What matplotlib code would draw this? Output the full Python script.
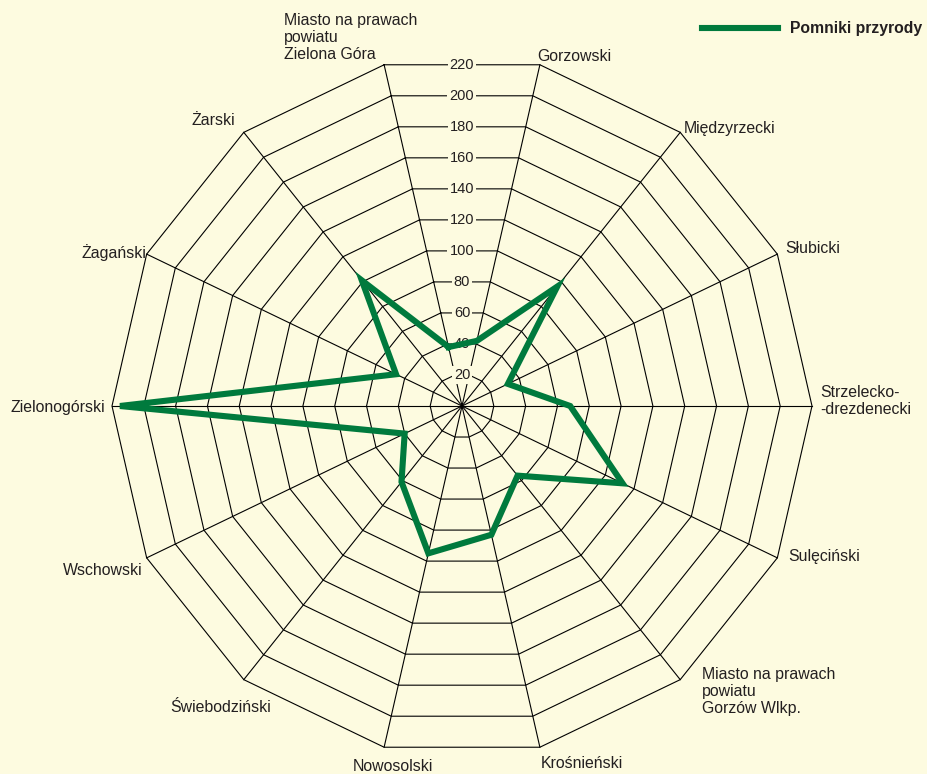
import numpy as np
import matplotlib
matplotlib.use('Agg')
import matplotlib.pyplot as plt

plt.rcParams['font.family'] = ['Liberation Sans', 'DejaVu Sans']

# ---- data ----
categories = [
    "Miasto na prawach\npowiatu\nZielona Góra",
    "Gorzowski",
    "Międzyrzecki",
    "Słubicki",
    "Strzelecko-\n-drezdenecki",
    "Sulęciński",
    "Miasto na prawach\npowiatu\nGorzów Wlkp.",
    "Krośnieński",
    "Nowosolski",
    "Świebodziński",
    "Wschowski",
    "Zielonogórski",
    "Żagański",
    "Żarski",
]
values = [38, 42, 96, 32, 68, 112, 56, 83, 95, 61, 40, 215, 46, 101]
series_name = "Pomniki przyrody"
tick_values = [20, 40, 60, 80, 100, 120, 140, 160, 180, 200, 220]
tick_labels = ["20", "40", "60", "80", "100", "120", "140", "160", "180", "200", "220"]

# ---- label placement (pixel offsets from the outer vertex, alignment) ----
label_offsets_px = [(-100, 27), (-3, 8), (4, 4), (8, 6), (8, 5), (11, 1), (22, -12),
                    (1, -16), (9, -19), (-23, -28), (-4, -13), (-7, -1), (0, 2), (-9, 12)]
label_ha = ['left', 'left', 'left', 'left', 'left', 'left', 'left',
            'left', 'center', 'center', 'right', 'right', 'right', 'right']

BG = '#FDFBE0'
GREEN = '#007A3D'
TXT = '#231F20'

W, H, DPI = 927, 774, 100
fig = plt.figure(figsize=(W / DPI, H / DPI), dpi=DPI, facecolor=BG)
ax = fig.add_axes([0, 0, 1, 1])
ax.set_facecolor(BG)
k = 220 / 350.0  # data units per pixel
cx, cy = 462, 406
ax.set_xlim(-cx * k, (W - cx) * k)
ax.set_ylim(-(H - cy) * k, cy * k)
ax.set_aspect('equal')
ax.axis('off')

n = len(categories)
theta = np.deg2rad(90 + 180 / n - np.arange(n) * 360 / n)
ct, st = np.cos(theta), np.sin(theta)
rmax = tick_values[-1]

# grid polygons
for v in tick_values:
    xs = np.append(v * ct, v * ct[0])
    ys = np.append(v * st, v * st[0])
    ax.plot(xs, ys, color='black', lw=0.8, zorder=1, solid_joinstyle='miter')
# spokes
for i in range(n):
    ax.plot([0, rmax * ct[i]], [0, rmax * st[i]], color='black', lw=0.8, zorder=1)

# tick labels along the vertical axis
for v, lab in zip(tick_values, tick_labels):
    ax.text(0, v * np.cos(np.pi / n), lab, ha='center', va='center', fontsize=10.5,
            color=TXT, zorder=2,
            bbox=dict(boxstyle='square,pad=0.15', facecolor=BG, edgecolor='none'))

# data
vals = np.array(values, dtype=float)
xs = np.append(vals * ct, vals[0] * ct[0])
ys = np.append(vals * st, vals[0] * st[0])
line, = ax.plot(xs, ys, color=GREEN, lw=4.4, zorder=3, solid_joinstyle='miter',
                label=series_name)

# category labels
for i, lab in enumerate(categories):
    dx, dy = label_offsets_px[i]
    ax.annotate(lab, xy=(rmax * ct[i], rmax * st[i]), xytext=(dx * 0.72, dy * 0.72),
                textcoords='offset points', ha=label_ha[i], va='center',
                multialignment='left', fontsize=11.4, color=TXT, linespacing=1.15)

# legend
leg = fig.legend(handles=[line], loc='center right', bbox_to_anchor=(930 / W, 1 - 29 / H),
                 frameon=False, handlelength=4.85, handletextpad=0.75, borderpad=0,
                 prop={'weight': 'bold', 'size': 11.3})
for t in leg.get_texts():
    t.set_color(TXT)

fig.savefig('out.png', dpi=DPI, facecolor=BG)
